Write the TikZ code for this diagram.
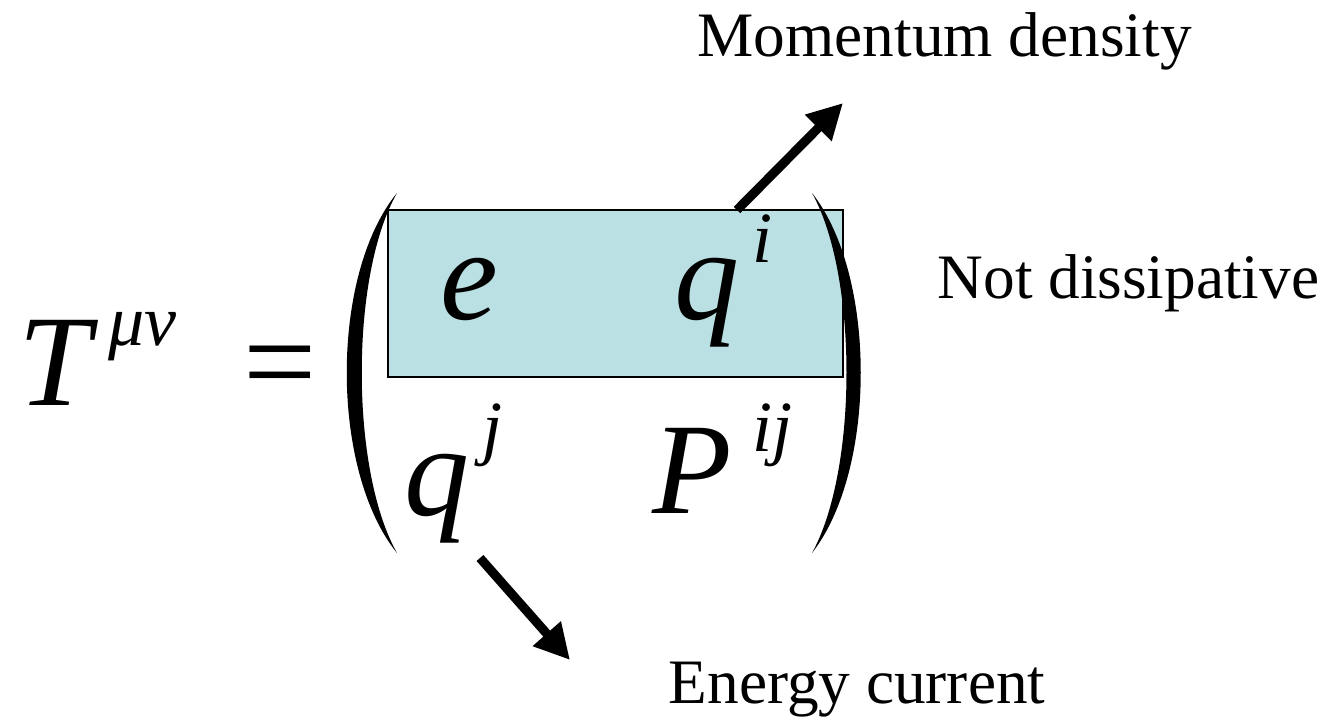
\documentclass[tikz,border=0pt]{standalone}
\usepackage{fontspec}
\setmainfont{Liberation Serif}
\usetikzlibrary{arrows.meta}

\definecolor{boxcyan}{RGB}{187,224,227}

\tikzset{
  entry/.style={inner sep=0pt, anchor=base west, font=\fontsize{37}{40}\selectfont\itshape},
  supscript/.style={inner sep=0pt, anchor=base west, font=\fontsize{20.5}{22}\selectfont\itshape},
  note/.style={inner sep=0pt, anchor=base west, font=\fontsize{18}{20}\selectfont},
  pointer/.style={line width=2.6pt, -{Triangle[length=10pt,width=10pt]}}
}

\begin{document}
\begin{tikzpicture}[x=0.01cm, y=-0.01cm]
  \useasboundingbox (0,0) rectangle (1338,721);

  % left side
  \node[entry] (T) at (18,405) {T};
  \node[supscript] (munu) at (108,345) {μν};
  \node[entry, font=\fontsize{37}{40}\selectfont] (eq) at (243,405) {=};

  % shaded top row
  \draw[fill=boxcyan, line width=0.5pt] (388,210) rectangle (843,377);

  % parentheses
  \fill (397,193) .. controls (330,275) and (330,470) .. (397,553)
        .. controls (350,470) and (350,275) .. (397,193) -- cycle;
  \fill (812,193) .. controls (877,275) and (877,470) .. (812,553)
        .. controls (858,470) and (858,275) .. (812,193) -- cycle;

  % matrix entries
  \node[entry] (e) at (440,320) {e};
  \node[entry] (q1) at (674,320) {q};
  \node[supscript] (i1) at (752,262) {i};
  \node[entry] (q2) at (404,515) {q};
  \node[supscript] (j2) at (482,452) {j};
  \node[entry] (P) at (652,513) {P};
  \node[supscript] (ij) at (752,452) {ij};

  % labels
  \node[note] (momentum) at (697,57) {Momentum density};
  \node[note] (notdiss) at (937,298) {Not dissipative};
  \node[note] (energy) at (668,703) {Energy current};

  % pointers
  \coordinate (mstart) at (737,210);
  \coordinate (mtip) at (843,103);
  \coordinate (estart) at (480,558);
  \coordinate (etip) at (570,660);
  \draw[pointer] (mstart) -- (mtip);
  \draw[pointer] (estart) -- (etip);
\end{tikzpicture}
\end{document}
